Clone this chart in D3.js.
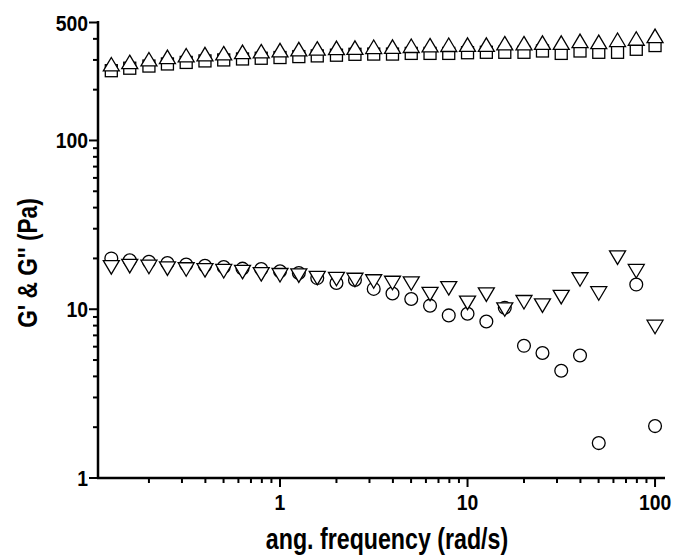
<!DOCTYPE html>
<html>
<head>
<meta charset="utf-8">
<script src="https://cdn.jsdelivr.net/npm/d3@7"></script>
<style>
body { margin: 0; background: #fff; }
text { font-family: "Liberation Sans", Arial, sans-serif; font-weight: bold; }
</style>
</head>
<body>
<div id="chart"></div>
<script>
// angular frequency, rad/s (10 points per decade)
var freq = [0.126, 0.158, 0.2, 0.251, 0.316, 0.398, 0.501, 0.631, 0.794, 1,
  1.26, 1.58, 2, 2.51, 3.16, 3.98, 5.01, 6.31, 7.94, 10,
  12.6, 15.8, 20, 25.1, 31.6, 39.8, 50.1, 63.1, 79.4, 100];

// G' squares
var gPrimeSquare = [259, 268, 276, 284, 290, 296, 300, 304, 307, 310,
  314, 317, 320, 324, 325, 325, 328, 328, 328, 331,
  333, 333, 333, 339, 328, 339, 333, 333, 347, 365];

// G' triangles
var gPrimeTri = [283, 292, 303, 313, 320, 325, 329, 335, 338, 343,
  348, 351, 354, 355, 359, 360, 364, 367, 369, 370,
  370, 377, 377, 380, 380, 389, 384, 395, 402, 417];

// G'' circles (null = not plotted)
var gDoubleCircle = [20.0, 19.5, 19.1, 18.8, 18.4, 18.1, 17.8, 17.4, 17.3, 16.8,
  16.4, 15.3, 14.3, 14.9, 13.2, 12.4, 11.5, 10.5, 9.19, 9.40,
  8.46, 10.2, 6.07, 5.50, 4.32, 5.32, 1.61, null, 14.0, 2.03];

// G'' inverted triangles
var gDoubleTri = [17.7, 18.0, 17.8, 17.4, 17.2, 17.0, 16.8, 16.6, 16.1, 15.9,
  15.8, 15.3, 15.1, 14.9, 14.6, 14.3, 14.2, 12.3, 13.3, 10.9,
  12.2, 9.96, 11.0, 10.5, 11.8, 15.0, 12.4, 20.2, 16.8, 7.85];

var xTickLabels = [1, 10, 100];
var yTickLabels = [1, 10, 100, 500];

var width = 679,
  height = 556;

var svg = d3.select("#chart")
  .append("svg")
  .attr("width", width)
  .attr("height", height);

var xScale = d3.scaleLog().domain([0.107, 113]).range([98, 665]);
var yScale = d3.scaleLog().domain([1, 500]).range([478, 22.5]);

// minor ticks: 2..9 of each decade inside the domain
var xMinor = [], yMinor = [];
[0.1, 1, 10].forEach(function(d) {
  for (var k = 2; k <= 9; k++) xMinor.push(d * k);
});
[1, 10, 100].forEach(function(d) {
  for (var k = 2; k <= 9; k++) if (d * k < 500) yMinor.push(d * k);
});

// X axis
var xAxis = svg.append("g").attr("transform", "translate(0,478)");
xAxis.append("line")
  .attr("x1", 97).attr("x2", 665)
  .attr("stroke", "#000").attr("stroke-width", 2.5);
xAxis.selectAll(".minor").data(xMinor).enter().append("line")
  .attr("x1", d => xScale(d)).attr("x2", d => xScale(d))
  .attr("y1", 0).attr("y2", 5)
  .attr("stroke", "#000").attr("stroke-width", 2);
xAxis.selectAll(".major").data(xTickLabels).enter().append("line")
  .attr("x1", d => xScale(d)).attr("x2", d => xScale(d))
  .attr("y1", 0).attr("y2", 9)
  .attr("stroke", "#000").attr("stroke-width", 2);
xAxis.selectAll(".lab").data(xTickLabels).enter().append("text")
  .attr("transform", d => `translate(${xScale(d)},31.5) scale(0.88,1)`)
  .attr("text-anchor", "middle")
  .attr("font-size", 22)
  .text(d => d);

// Y axis
var yAxis = svg.append("g").attr("transform", "translate(98,0)");
yAxis.append("line")
  .attr("y1", 21).attr("y2", 479)
  .attr("stroke", "#000").attr("stroke-width", 2.5);
yAxis.selectAll(".minor").data(yMinor).enter().append("line")
  .attr("y1", d => yScale(d)).attr("y2", d => yScale(d))
  .attr("x1", 0).attr("x2", -5)
  .attr("stroke", "#000").attr("stroke-width", 2);
yAxis.selectAll(".major").data(yTickLabels).enter().append("line")
  .attr("y1", d => yScale(d)).attr("y2", d => yScale(d))
  .attr("x1", 0).attr("x2", -9)
  .attr("stroke", "#000").attr("stroke-width", 2);
yAxis.selectAll(".lab").data(yTickLabels).enter().append("text")
  .attr("transform", d => `translate(-10,${yScale(d) + 8}) scale(0.88,1)`)
  .attr("text-anchor", "end")
  .attr("font-size", 22)
  .text(d => d);

// axis titles
svg.append("text")
  .attr("transform", "translate(387,549) scale(0.8,1)")
  .attr("text-anchor", "middle")
  .attr("font-size", 29)
  .text("ang. frequency (rad/s)");

svg.append("text")
  .attr("transform", "translate(37,263) rotate(-90) scale(0.81,1)")
  .attr("text-anchor", "middle")
  .attr("font-size", 28)
  .text("G' & G'' (Pa)");

// markers
var plot = svg.append("g");
function points(vals) {
  return vals.map((v, i) => ({x: freq[i], y: v})).filter(d => d.y != null);
}
var triUp = "M0,-6.75L8,6.75L-8,6.75Z";
var triDown = "M0,6.75L8,-6.75L-8,-6.75Z";

plot.selectAll(".sq").data(points(gPrimeSquare)).enter().append("rect")
  .attr("x", d => xScale(d.x) - 6).attr("y", d => yScale(d.y) - 6)
  .attr("width", 12).attr("height", 12)
  .attr("fill", "#fff").attr("stroke", "#000").attr("stroke-width", 1.3);

plot.selectAll(".circ").data(points(gDoubleCircle)).enter().append("circle")
  .attr("cx", d => xScale(d.x)).attr("cy", d => yScale(d.y))
  .attr("r", 6.4)
  .attr("fill", "#fff").attr("stroke", "#000").attr("stroke-width", 1.3);

plot.selectAll(".up").data(points(gPrimeTri)).enter().append("path")
  .attr("d", triUp)
  .attr("transform", d => `translate(${xScale(d.x)},${yScale(d.y)})`)
  .attr("fill", "#fff").attr("stroke", "#000").attr("stroke-width", 1.3);

plot.selectAll(".down").data(points(gDoubleTri)).enter().append("path")
  .attr("d", triDown)
  .attr("transform", d => `translate(${xScale(d.x)},${yScale(d.y)})`)
  .attr("fill", "#fff").attr("stroke", "#000").attr("stroke-width", 1.3);
</script>
</body>
</html>
